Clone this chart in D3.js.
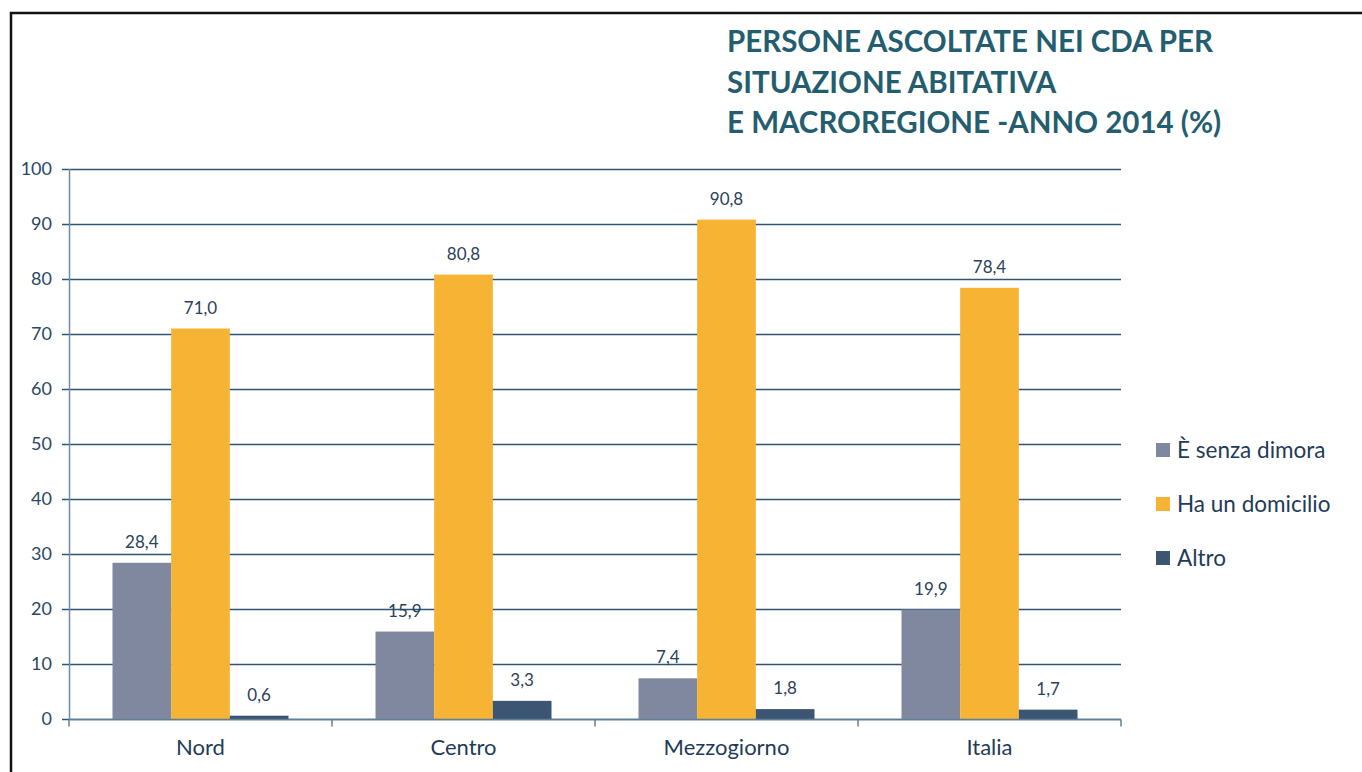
<!DOCTYPE html>
<html>
<head>
<meta charset="utf-8">
<script src="https://cdn.jsdelivr.net/npm/d3@7"></script>
<style>
  html, body { margin: 0; padding: 0; background: #fff; }
  svg { display: block; font-family: Lato, "Open Sans", sans-serif; }
</style>
</head>
<body>
<div id="chart"></div>
<script>
// --- data ---
const regions = ["Nord", "Centro", "Mezzogiorno", "Italia"];
const seriesNames = ["È senza dimora", "Ha un domicilio", "Altro"];
const senzaDimora = [28.4, 15.9, 7.4, 19.9];
const domicilio = [71.0, 80.8, 90.8, 78.4];
const altro = [0.6, 3.3, 1.8, 1.7];
const yTicks = [0, 10, 20, 30, 40, 50, 60, 70, 80, 90, 100];
const titleLines = ["PERSONE ASCOLTATE NEI CDA PER", "SITUAZIONE ABITATIVA", "E MACROREGIONE -ANNO 2014 (%)"];

const colors = ["#8088a0", "#f6b334", "#3b5573"];
const seriesValues = [senzaDimora, domicilio, altro];

const width = 1362, height = 772;
const margin = { top: 169, left: 69, right: 241, bottom: 53 };

const svg = d3.select("#chart").append("svg")
    .attr("width", width)
    .attr("height", height);

// frame
svg.append("path")
    .attr("d", `M11,${height} V13 H${width}`)
    .attr("fill", "none")
    .attr("stroke", "#111")
    .attr("stroke-width", 2.5);

// title
svg.append("g")
    .selectAll("text")
    .data(titleLines)
    .join("text")
    .attr("x", 727)
    .attr("y", (d, i) => 52 + i * 40.5)
    .attr("fill", "#245e6e")
    .style("font-size", "29.5px")
    .style("font-weight", "bold")
    .text(d => d);

const x0 = d3.scaleBand()
    .domain(regions)
    .range([margin.left, width - margin.right])
    .paddingInner(0)
    .paddingOuter(0);

const x1 = d3.scaleBand()
    .domain(d3.range(seriesNames.length))
    .range([43.5, x0.bandwidth() - 43.5]);

const y = d3.scaleLinear()
    .domain([0, 100])
    .range([height - margin.bottom, margin.top]);

// gridlines
svg.append("g")
    .selectAll("line")
    .data(yTicks)
    .join("line")
    .attr("x1", margin.left - 7)
    .attr("x2", width - margin.right)
    .attr("y1", d => y(d) + 0.5)
    .attr("y2", d => y(d) + 0.5)
    .attr("stroke", "#2d5473")
    .attr("stroke-width", 1.3);

// y tick labels
svg.append("g")
    .selectAll("text")
    .data(yTicks)
    .join("text")
    .attr("x", 52)
    .attr("y", d => y(d))
    .attr("dy", "0.35em")
    .attr("text-anchor", "end")
    .attr("fill", "#2a4863")
    .style("font-size", "18px")
    .text(d => d);

// bars
const group = svg.append("g")
    .selectAll("g")
    .data(regions)
    .join("g")
    .attr("transform", d => `translate(${x0(d)},0)`);

group.selectAll("rect")
    .data((d, i) => seriesValues.map((s, k) => ({ k, v: s[i] })))
    .join("rect")
    .attr("x", d => x1(d.k))
    .attr("width", x1.bandwidth())
    .attr("y", d => y(d.v))
    .attr("height", d => y(0) - y(d.v))
    .attr("fill", d => colors[d.k]);

// value labels
group.selectAll("text")
    .data((d, i) => seriesValues.map((s, k) => ({ k, v: s[i] })))
    .join("text")
    .attr("x", d => x1(d.k) + x1.bandwidth() / 2)
    .attr("y", d => y(d.v) - 15)
    .attr("text-anchor", "middle")
    .attr("fill", "#2b4159")
    .style("font-size", "17px")
    .text(d => d3.format(".1f")(d.v).replace(".", ","));

// x axis
const xAxisY = y(0) + 0.5;
svg.append("line")
    .attr("x1", margin.left).attr("x2", width - margin.right)
    .attr("y1", xAxisY).attr("y2", xAxisY)
    .attr("stroke", "#5f7f99").attr("stroke-width", 1.5);

svg.append("g")
    .selectAll("line")
    .data(regions.map(r => x0(r)).concat([width - margin.right]))
    .join("line")
    .attr("x1", d => d).attr("x2", d => d)
    .attr("y1", xAxisY).attr("y2", xAxisY + 7)
    .attr("stroke", "#5f7f99").attr("stroke-width", 1.5);

// y axis line
svg.append("line")
    .attr("x1", margin.left + 0.5).attr("x2", margin.left + 0.5)
    .attr("y1", y(100)).attr("y2", y(0))
    .attr("stroke", "#6f8ba3").attr("stroke-width", 1.5);

svg.append("g")
    .selectAll("text")
    .data(regions)
    .join("text")
    .attr("x", d => x0(d) + x0.bandwidth() / 2)
    .attr("y", 755)
    .attr("text-anchor", "middle")
    .attr("fill", "#1f3b57")
    .style("font-size", "22px")
    .text(d => d);

// legend
const legend = svg.append("g")
    .selectAll("g")
    .data(seriesNames)
    .join("g")
    .attr("transform", (d, i) => `translate(1156,${450 + i * 54})`);

legend.append("rect")
    .attr("x", 0).attr("y", -7)
    .attr("width", 14).attr("height", 14)
    .attr("fill", (d, i) => colors[i]);

legend.append("text")
    .attr("x", 21)
    .attr("dy", "0.35em")
    .attr("fill", "#1f3b57")
    .style("font-size", "22.5px")
    .text(d => d);
</script>
</body>
</html>
